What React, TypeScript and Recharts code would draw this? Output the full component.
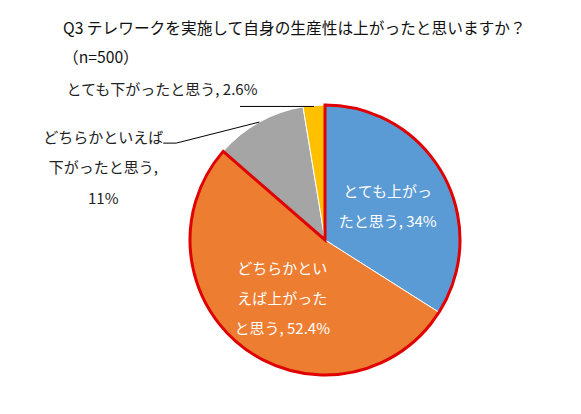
import { PieChart, Pie, Cell } from 'recharts';

const categories = [
  'とても上がったと思う',
  'どちらかといえば上がったと思う',
  'どちらかといえば下がったと思う',
  'とても下がったと思う',
];
const shares = [34, 52.4, 11, 2.6];
const labelLines = [
  ['とても上がっ', 'たと思う, 34%'],
  ['どちらかとい', 'えば上がった', 'と思う, 52.4%'],
  ['どちらかといえば', '下がったと思う,', '11%'],
  ['とても下がったと思う, 2.6%'],
];
const colors = ['#5B9BD5', '#ED7D31', '#A5A5A5', '#FFC000'];
const title = 'Q3 テレワークを実施して自身の生産性は上がったと思いますか？';
const subtitle = '（n=500）';

const data = categories.map((name, i) => ({ name, value: shares[i] }));
// 上がった（とても＋どちらかといえば）を赤枠で囲む
const upTotal = shares[0] + shares[1];
const outline = [
  { name: 'up', value: upTotal },
  { name: 'rest', value: 100 - upTotal },
];

const FONT = '"Noto Sans CJK JP", "Noto Sans", sans-serif';
const RAD = Math.PI / 180;

function renderLabel(props: any) {
  const { cx, cy, midAngle, outerRadius, index } = props;
  const lines = labelLines[index];
  const cos = Math.cos(-midAngle * RAD);
  const sin = Math.sin(-midAngle * RAD);

  if (index < 2) {
    const r = outerRadius * 0.53;
    const x = cx + r * cos;
    const y = cy + r * sin;
    const top = y - ((lines.length - 1) * 30) / 2;
    return (
      <text key={`l-${index}`} fill="#fff" fontSize={15} fontFamily={FONT} textAnchor="middle">
        {lines.map((t, j) => (
          <tspan key={j} x={x} y={top + j * 30} dominantBaseline="central">{t}</tspan>
        ))}
      </text>
    );
  }

  const ex = cx + outerRadius * cos;
  const ey = cy + outerRadius * sin;
  if (index === 2) {
    const tx = ex - 156;
    const ty = ey + 14;
    return (
      <g key={`l-${index}`}>
        <polyline points={`${ex},${ey} ${ex - 83},${ey + 21} ${ex - 96},${ey + 21}`} fill="none" stroke="#000" strokeWidth={1} />
        <text fill="#222" fontSize={15} fontFamily={FONT} textAnchor="middle">
          {lines.map((t, j) => (
            <tspan key={j} x={tx} y={ty + j * 30.5} dominantBaseline="central">{t}</tspan>
          ))}
        </text>
      </g>
    );
  }
  return (
    <g key={`l-${index}`}>
      <polyline points={`${ex},${ey + 1} ${ex - 74},${ey + 1}`} fill="none" stroke="#000" strokeWidth={1} />
      <text x={ex - 152} y={ey - 17} fill="#222" fontSize={15} fontFamily={FONT} textAnchor="middle" dominantBaseline="central">
        {lines[0]}
      </text>
    </g>
  );
}

export default function App() {
  return (
    <div style={{ position: 'absolute', left: 0, top: 0, width: 581, height: 414, background: '#fff', fontFamily: FONT }}>
      <div style={{ position: 'absolute', left: 63, top: 18, fontSize: 15.7, lineHeight: '20px', color: '#111', whiteSpace: 'nowrap' }}>
        {title}
      </div>
      <div style={{ position: 'absolute', left: 63, top: 47, fontSize: 15.7, lineHeight: '20px', color: '#111', whiteSpace: 'nowrap' }}>
        {subtitle}
      </div>
      <PieChart width={581} height={414} margin={{ top: 0, right: 0, bottom: 0, left: 0 }}>
        <Pie
          data={data}
          dataKey="value"
          nameKey="name"
          cx={325}
          cy={240}
          outerRadius={135}
          startAngle={90}
          endAngle={-270}
          stroke="#fff"
          strokeWidth={1}
          label={renderLabel}
          labelLine={false}
          isAnimationActive={false}
        >
          {data.map((d, i) => (
            <Cell key={d.name} fill={colors[i]} />
          ))}
        </Pie>
        <Pie
          data={outline}
          dataKey="value"
          cx={325}
          cy={240}
          outerRadius={135}
          startAngle={90}
          endAngle={-270}
          fill="none"
          isAnimationActive={false}
        >
          <Cell key="up" fill="none" stroke="#E00000" strokeWidth={3} />
          <Cell key="rest" fill="none" stroke="none" />
        </Pie>
      </PieChart>
    </div>
  );
}
